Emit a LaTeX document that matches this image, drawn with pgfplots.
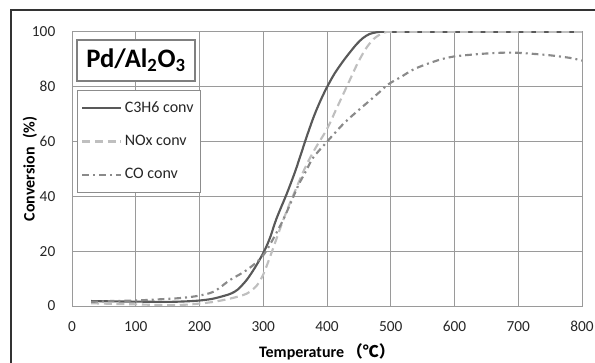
\documentclass[border=0pt]{standalone}
\usepackage{pgfplots}
\pgfplotsset{compat=1.18}
\usepackage{fontspec}
\setmainfont{Carlito}
\newfontfamily\cjk{Noto Sans CJK SC}
\definecolor{cCthree}{HTML}{595959}
\definecolor{cNOx}{HTML}{BFBFBF}
\definecolor{cCO}{HTML}{8A8A8A}
\definecolor{cGrid}{HTML}{9A9A9A}
\begin{document}
\begin{tikzpicture}
\useasboundingbox (0,0) rectangle (446.25pt,272.25pt);
\draw[line width=1.6pt, black!80] (8.25pt,0pt) -- (8.25pt,264.75pt) -- (446.25pt,264.75pt);
\begin{axis}[
  at={(54pt,42.75pt)}, anchor=south west,
  scale only axis, width=382.5pt, height=205.7pt,
  xmin=0, xmax=800, ymin=0, ymax=100,
  xtick={0,100,...,800}, ytick={0,20,...,100},
  major tick length=0pt,
  grid=major,
  grid style={cGrid, line width=0.6pt},
  axis line style={cGrid, line width=0.6pt},
  /pgf/number format/assume math mode=true,
  tick label style={font=\fontsize{11.5}{13}\selectfont, text=black!85},
  xticklabel style={yshift=-8pt},
  yticklabel style={xshift=-9pt},
  xlabel={\textbf{Temperature}\,{\cjk\bfseries （℃）}},
  ylabel={\textbf{Conversion\hspace{7pt}(\%)}},
  xlabel style={at={(axis description cs:0.5,-0.1677)}, anchor=center, font=\fontsize{12}{14}\selectfont},
  ylabel style={at={(axis description cs:-0.0824,0.5)}, anchor=center, font=\fontsize{12}{14}\selectfont},
  legend cell align=left,
  legend image code/.code={\draw[#1] (0pt,0pt) -- (29pt,0pt);},
  legend style={at={(axis cs:7.8,78.7)}, anchor=north west, draw=black!45, line width=0.6pt,
    font=\fontsize{12}{14}\selectfont, inner xsep=3pt, inner ysep=6.5pt, row sep=11.5pt,
    text=black!85, fill=white, text depth=0pt},
]
\addplot[cCthree, line width=1.6pt, smooth, tension=0.5] coordinates {
(30,1.8) (60,1.7) (100,1.6) (150,1.5) (180,1.7) (200,2.0) (220,2.6) (240,3.8) (250,4.6) (260,6.0) (274,9.5) (287,14) (300,19.3) (310,24.5) (321,32) (337,41) (350,49) (360,56) (370,63) (380,69.5) (390,75) (400,79.8) (412,84.8) (426,89.5) (437,92.8) (447,95.6) (457,97.8) (467,99.2) (478,99.8) (490,100) (550,100) (650,100) (800,100)};
\addlegendentry{C3H6 conv}
\addplot[cNOx, line width=1.6pt, dash pattern=on 6pt off 3.5pt, smooth, tension=0.5] coordinates {
(30,1.0) (60,0.8) (100,0.6) (150,0.3) (180,0.5) (200,0.9) (222,1.5) (250,2.8) (274,4.5) (290,7.5) (300,11.5) (310,17.5) (320,24) (330,30.5) (340,36.5) (350,42) (360,47.5) (370,52.5) (383,58) (400,64.5) (413,71) (426,77.5) (437,83) (447,88) (460,93.5) (473,97.3) (488,99.6) (500,100) (520,100) (650,100) (800,100)};
\addlegendentry{NOx conv}
\addplot[cCO, line width=1.6pt, dash pattern=on 5pt off 3pt on 1.5pt off 3pt, smooth, tension=0.5] coordinates {
(30,1.5) (60,1.8) (100,2.0) (150,2.6) (170,2.9) (195,3.6) (222,5.2) (248,9.5) (274,13.1) (300,18.5) (326,29) (342,37) (355,44) (368,49.6) (378,54) (400,59.9) (426,66.5) (445,70.5) (462,73.9) (480,77.5) (496,80.8) (516,83.5) (536,86.3) (560,88.5) (580,90) (600,91) (630,91.7) (660,92.2) (690,92.4) (720,92) (750,91.4) (780,90.5) (800,89.5)};
\addlegendentry{CO conv}
\node[draw=black!50, line width=1pt, fill=white, minimum width=88.5pt, minimum height=30.75pt, inner sep=0pt,
  font=\fontsize{20}{24}\selectfont\bfseries] at (axis cs:100.4,89.5) {Pd/Al\textsubscript{2}O\textsubscript{3}};
\end{axis}
\end{tikzpicture}
\end{document}
